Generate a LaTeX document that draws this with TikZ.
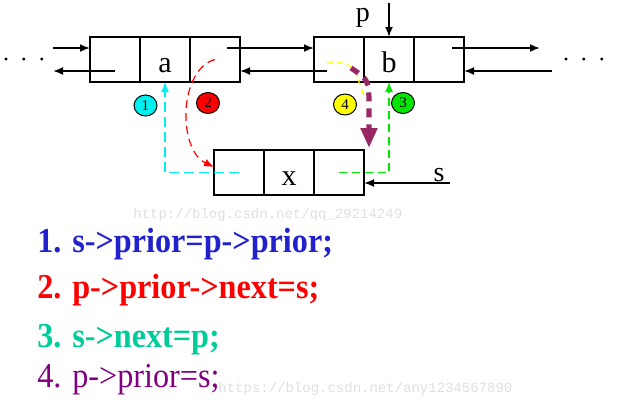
\documentclass[tikz,border=0pt]{standalone}
\usepackage{fontspec}
\usepackage{graphicx}
\setmainfont{Liberation Serif}
\setmonofont{Liberation Mono}
\usetikzlibrary{arrows.meta,positioning,shapes.geometric,calc}
\definecolor{stepBlue}{RGB}{34,34,204}
\definecolor{stepRed}{RGB}{255,0,0}
\definecolor{stepGreen}{RGB}{0,204,153}
\definecolor{stepPurple}{RGB}{128,0,128}
\definecolor{moveWine}{RGB}{150,40,100}
\definecolor{markCyan}{RGB}{0,240,240}
\definecolor{markGreen}{RGB}{0,230,0}
\definecolor{markYellow}{RGB}{255,255,0}
\newcommand{\narrow}[1]{\scalebox{0.92}[1]{#1}}

\begin{document}
\begin{tikzpicture}[x=0.5pt,y=-0.5pt,
    cell/.style={rectangle, draw=black, line width=0.6pt, minimum width=25pt,
                 minimum height=22.5pt, inner sep=0pt, outer sep=0pt},
    val/.style={cell, font=\fontsize{15}{15}\selectfont, text height=13pt, text depth=0pt},
    lbl/.style={inner sep=0pt, font=\fontsize{14}{14}\selectfont},
    dots/.style={inner sep=0pt, font=\fontsize{12}{12}\selectfont},
    arr/.style={-{Latex[length=5pt,width=4pt]}, line width=0.9pt},
    dsh/.style={line width=0.6pt, dash pattern=on 4pt off 2.5pt, -{Latex[length=5pt,width=4pt]}},
    num/.style={ellipse, draw=black, line width=0.5pt, minimum width=11.5pt,
                minimum height=10.5pt, inner sep=0pt, font=\fontsize{7.5}{7.5}\selectfont},
    code/.style={anchor=base west, inner sep=0pt, font=\fontsize{17.5}{17.5}\selectfont\bfseries},
    wmk/.style={anchor=west, inner sep=0pt, text=gray!25, font=\ttfamily\fontsize{7}{7}\selectfont}
  ]
  \useasboundingbox (0,0) rectangle (623,409);

  % the list nodes
  \node[cell] (aL) at (115,59.5) {};
  \node[val]  (aM) at (165,59.5) {a};
  \node[cell] (aR) at (215,59.5) {};
  \node[cell] (bL) at (339,59.5) {};
  \node[val]  (bM) at (389,59.5) {b};
  \node[cell] (bR) at (439,59.5) {};
  \node[cell] (xL) at (239,172.5) {};
  \node[val]  (xM) at (289,172.5) {x};
  \node[cell] (xR) at (339,172.5) {};

  \node[dots] (ldots) at (24,63) {·\hspace{5pt}·\hspace{5pt}·};
  \node[dots] (rdots) at (584,63) {·\hspace{5pt}·\hspace{5pt}·};
  \node[lbl] (plbl) at (363,18) {p};
  \node[lbl] (slbl) at (439,175) {s};

  \coordinate (lin)    at (53,48);
  \coordinate (lout)   at (53,71);
  \coordinate (rout)   at (540,48);
  \coordinate (rin)    at (552,71);
  \coordinate (ptop)   at (389,3);
  \coordinate (stail)  at (450,183);
  \coordinate (yend)   at (364,96);
  \coordinate (mvstart) at (351,68);

  % links
  \draw[arr] (lin) -- ([yshift=5.75pt]aL.west);
  \draw[arr] ([yshift=-5.75pt]aL.center) -- (lout);
  \draw[arr] ([xshift=6pt,yshift=5.75pt]aR.center) -- ([yshift=5.75pt]bL.west);
  \draw[arr] ([xshift=-6pt,yshift=-5.75pt]bL.center) -- ([yshift=-5.75pt]aR.east);
  \draw[arr] ([xshift=6.5pt,yshift=5.75pt]bR.center) -- (rout);
  \draw[arr] (rin) -- ([yshift=-5.75pt]bR.east);
  \draw[arr] (ptop) -- (bM.north);
  \draw[arr] (stail) -- ([yshift=-5.25pt]xR.east);

  % the four steps
  \draw[dsh, markCyan, dash pattern=on 5pt off 2.5pt] (xL.center) -| (aM.south);
  \draw[dsh, red] (aR.center) .. controls (178,70) and (178,150) .. ([yshift=2.75pt]xL.west);
  \draw[dsh, markGreen] (xR.center) -| (bM.south);
  \draw[markYellow, line width=0.6pt, dash pattern=on 3pt off 2pt]
    ([xshift=-6pt,yshift=-1.75pt]bL.center) .. controls (352,62) .. (yend);
  \draw[moveWine, line width=2.6pt, dash pattern=on 4.5pt off 3.5pt,
        -{Triangle[length=10pt,width=8pt]}]
    (mvstart) .. controls (369,80) .. (369,108) -- ([xshift=2.5pt,yshift=1pt]xR.north east);

  \node[num, fill=markCyan]   (c1) at (145.5,105.5) {1};
  \node[num, fill=red]        (c2) at (208,103) {2};
  \node[num, fill=markGreen]  (c3) at (403,103) {3};
  \node[num, fill=markYellow] (c4) at (345,104.5) {4};

  % code
  \node[wmk] (wm1) at (133,215) {http://blog.csdn.net/qq\_29214249};
  \node[code, text=stepBlue]  (l1) at (37,252) {\narrow{1. s->prior=p->prior;}};
  \node[code, text=stepRed]   (l2) at (37,298) {\narrow{2. p->prior->next=s;}};
  \node[code, text=stepGreen] (l3) at (37,347) {\narrow{3. s->next=p;}};
  \node[code, font=\fontsize{17.5}{17.5}\selectfont, text=stepPurple] (l4) at (37,387) {\narrow{4. p->prior=s;}};
  \node[wmk] (wm2) at (218,389) {https://blog.csdn.net/any1234567890};
\end{tikzpicture}
\end{document}
